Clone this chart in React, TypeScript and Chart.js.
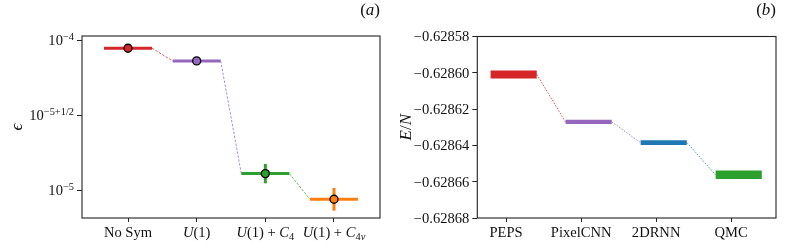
import React, { useEffect, useRef } from "react";
import { Chart, registerables } from "chart.js";
Chart.register(...registerables);

// ---------- panel (a): symmetry vs relative error ----------
const symCategories = ["No Sym", "$U(1)$", "$U(1) + C_4$", "$U(1) + C_{4v}$"];
const symError = [8.9e-5, 7.33e-5, 1.3e-5, 8.77e-6];
const symErrLow: (number | null)[] = [null, null, 1.12e-5, 7.36e-6];
const symErrHigh: (number | null)[] = [null, null, 1.507e-5, 1.043e-5];
const symColors = ["#d62728", "#9467bd", "#2ca02c", "#ff7f0e"];
const symYTicks = [1e-4, Math.pow(10, -5 + 1 / 2), 1e-5];
const symYTickLabels = ["$10^{-4}$", "$10^{-5+1/2}$", "$10^{-5}$"];

// ---------- panel (b): energy per site ----------
const methodCategories = ["PEPS", "PixelCNN", "2DRNN", "QMC"];
const methodLow = [-0.6286031, -0.6286282, -0.6286398, -0.6286585];
const methodHigh = [-0.6285987, -0.6286259, -0.6286371, -0.6286538];
const methodColors = ["#d62728", "#9467bd", "#1f77b4", "#2ca02c"];
const methodYTicks = [-0.62868, -0.62866, -0.62864, -0.62862, -0.6286, -0.62858];

const FAMILY = "'Liberation Serif', 'DejaVu Serif', serif";
const FS = 14;
const SX = 1.04;

type Seg = { t: string; it: boolean; lv: number };

function pushSeg(out: Seg[], t: string, it: boolean, lv: number) {
  const last = out[out.length - 1];
  if (last && last.it === it && last.lv === lv) last.t += t;
  else out.push({ t, it, lv });
}

function parseMath(s: string, lv: number, out: Seg[]) {
  let i = 0;
  while (i < s.length) {
    const c = s[i];
    if (c === "_" || c === "^") {
      const nl = lv + (c === "^" ? 1 : -1);
      i++;
      let g = "";
      if (s[i] === "{") {
        let depth = 1;
        let j = i + 1;
        while (j < s.length && depth) {
          if (s[j] === "{") depth++;
          else if (s[j] === "}") depth--;
          j++;
        }
        g = s.slice(i + 1, j - 1);
        i = j;
      } else {
        g = s[i];
        i++;
      }
      parseMath(g, nl, out);
      continue;
    }
    if (c === " ") {
      i++;
      continue;
    }
    const it = /[A-Za-z\u03b1-\u03f5]/.test(c);
    let t = c;
    if (c === "-") t = "\u2212";
    if (c === "+" && lv === 0) t = " + ";
    pushSeg(out, t, it, lv);
    i++;
  }
}

function parseTex(s: string): Seg[] {
  const out: Seg[] = [];
  s.split("$").forEach((p, k) => {
    if (k % 2 === 0) {
      if (p) pushSeg(out, p, false, 0);
    } else parseMath(p, 0, out);
  });
  return out;
}

function drawTex(
  ctx: CanvasRenderingContext2D,
  s: string,
  x: number,
  y: number,
  align: "left" | "center" | "right",
  size: number,
  sx = SX
) {
  const segs = parseTex(s);
  const fontFor = (g: Seg) =>
    `${g.it ? "italic " : ""}${g.lv === 0 ? size : Math.round(size * 0.72)}px ${FAMILY}`;
  let w = 0;
  const ws = segs.map((g) => {
    ctx.font = fontFor(g);
    const m = ctx.measureText(g.t).width;
    w += m;
    return m;
  });
  const W = w * sx;
  const x0 = align === "left" ? x : align === "right" ? x - W : x - W / 2;
  ctx.save();
  ctx.translate(x0, y);
  ctx.scale(sx, 1);
  ctx.textAlign = "left";
  ctx.textBaseline = "alphabetic";
  let cx = 0;
  segs.forEach((g, k) => {
    ctx.font = fontFor(g);
    const dy = g.lv > 0 ? -0.42 * size : g.lv < 0 ? 0.22 * size : 0;
    ctx.fillText(g.t, cx, dy);
    cx += ws[k];
  });
  ctx.restore();
}

function rgba(hex: string, a: number) {
  const n = parseInt(hex.slice(1), 16);
  return `rgba(${(n >> 16) & 255},${(n >> 8) & 255},${n & 255},${a})`;
}

function makeDecor(cfg: {
  xLabels: string[];
  yTicks: number[];
  yLabels: string[];
  title: string;
  yTitle: string;
  yTitleX: number;
}) {
  return {
    id: "decor",
    afterDraw(chart: any) {
      const { ctx, chartArea: a, scales } = chart;
      ctx.save();
      ctx.strokeStyle = "#222";
      ctx.lineWidth = 1.1;
      ctx.strokeRect(a.left, a.top, a.right - a.left, a.bottom - a.top);
      ctx.fillStyle = "#111";
      cfg.xLabels.forEach((s, i) =>
        drawTex(ctx, s, scales.x.getPixelForValue(i), a.bottom + 19, "center", FS)
      );
      cfg.yTicks.forEach((v, i) =>
        drawTex(ctx, cfg.yLabels[i], a.left - 8, scales.y.getPixelForValue(v) + 4.8, "right", FS)
      );
      drawTex(ctx, cfg.title, a.right, 15, "right", 17, 1);
      ctx.save();
      ctx.translate(cfg.yTitleX, (a.top + a.bottom) / 2);
      ctx.rotate(-Math.PI / 2);
      drawTex(ctx, cfg.yTitle, 0, 5.5, "center", 17, 1);
      ctx.restore();
      ctx.restore();
    },
  };
}

const tickAxis = (tickLength: number) => ({
  bounds: "data" as const,
  ticks: { display: false, autoSkip: false },
  grid: {
    display: true,
    drawOnChartArea: false,
    drawTicks: true,
    tickLength,
    color: "#222",
    lineWidth: 1,
  },
  border: { display: false },
});

function leftConfig(): any {
  const HALF = 0.35;
  const datasets: any[] = [];
  datasets.push({
    data: symCategories.map((_, i) => ({ x: i, y: symError[i] })),
    showLine: false,
    pointRadius: 4,
    pointBackgroundColor: symColors,
    pointBorderColor: "#000",
    pointBorderWidth: 1.3,
    order: 0,
  });
  symErrLow.forEach((lo, i) => {
    const hi = symErrHigh[i];
    if (lo == null || hi == null) return;
    datasets.push({
      data: [
        { x: i, y: lo },
        { x: i, y: hi },
      ],
      borderColor: symColors[i],
      borderWidth: 3,
      pointRadius: 0,
      order: 1,
    });
  });
  symError.forEach((v, i) => {
    datasets.push({
      data: [
        { x: i - HALF, y: v },
        { x: i + HALF, y: v },
      ],
      borderColor: symColors[i],
      borderWidth: 3,
      pointRadius: 0,
      order: 2,
    });
  });
  for (let i = 0; i < symError.length - 1; i++) {
    datasets.push({
      data: [
        { x: i + HALF, y: symError[i] },
        { x: i + 1 - HALF, y: symError[i + 1] },
      ],
      borderColor: rgba(symColors[i], 0.75),
      borderWidth: 1,
      borderDash: [2.5, 1.5],
      pointRadius: 0,
      order: 3,
    });
  }
  return {
    type: "line",
    data: { datasets },
    options: {
      responsive: false,
      animation: false,
      events: [],
      layout: { padding: { left: 0, right: 14, top: 36, bottom: 0 } },
      plugins: { legend: { display: false }, tooltip: { enabled: false } },
      scales: {
        x: {
          type: "linear",
          min: -0.67,
          max: 3.67,
          ...tickAxis(4),
          afterBuildTicks: (s: any) => {
            s.ticks = symCategories.map((_, i) => ({ value: i }));
          },
          afterFit: (s: any) => {
            s.height = 32;
          },
        },
        y: {
          type: "logarithmic",
          min: Math.pow(10, -5.182),
          max: Math.pow(10, -3.969),
          ...tickAxis(5),
          afterBuildTicks: (s: any) => {
            s.ticks = symYTicks.map((v) => ({ value: v }));
          },
          afterFit: (s: any) => {
            s.width = 82;
          },
        },
      },
    },
    plugins: [
      makeDecor({
        xLabels: symCategories,
        yTicks: symYTicks,
        yLabels: symYTickLabels,
        title: "$(a)$",
        yTitle: "$\u03f5$",
        yTitleX: 16,
      }),
    ],
  };
}

function rightConfig(): any {
  const X0 = -0.21;
  const X1 = 0.41;
  const datasets: any[] = [];
  methodLow.forEach((lo, i) => {
    datasets.push({
      data: [
        { x: i + X0, y: lo },
        { x: i + X1, y: lo },
      ],
      borderWidth: 0,
      pointRadius: 0,
      fill: false,
    });
    datasets.push({
      data: [
        { x: i + X0, y: methodHigh[i] },
        { x: i + X1, y: methodHigh[i] },
      ],
      borderWidth: 0,
      pointRadius: 0,
      backgroundColor: methodColors[i],
      fill: "-1",
    });
  });
  const mid = methodLow.map((lo, i) => (lo + methodHigh[i]) / 2);
  for (let i = 0; i < mid.length - 1; i++) {
    datasets.push({
      data: [
        { x: i + X1, y: mid[i] },
        { x: i + 1 + X0, y: mid[i + 1] },
      ],
      borderColor: rgba(methodColors[i], 0.8),
      borderWidth: 1,
      borderDash: [1.5, 1.5],
      pointRadius: 0,
      fill: false,
    });
  }
  return {
    type: "line",
    data: { datasets },
    options: {
      responsive: false,
      animation: false,
      events: [],
      layout: { padding: { left: 0, right: 13, top: 36.5, bottom: 0 } },
      plugins: { legend: { display: false }, tooltip: { enabled: false } },
      scales: {
        x: {
          type: "linear",
          min: -0.384,
          max: 3.598,
          ...tickAxis(4),
          afterBuildTicks: (s: any) => {
            s.ticks = methodCategories.map((_, i) => ({ value: i }));
          },
          afterFit: (s: any) => {
            s.height = 32;
          },
        },
        y: {
          type: "linear",
          min: methodYTicks[0],
          max: methodYTicks[methodYTicks.length - 1],
          ...tickAxis(5),
          afterBuildTicks: (s: any) => {
            s.ticks = methodYTicks.map((v) => ({ value: v }));
          },
          afterFit: (s: any) => {
            s.width = 83.3;
          },
        },
      },
    },
    plugins: [
      makeDecor({
        xLabels: methodCategories,
        yTicks: methodYTicks,
        yLabels: methodYTicks.map((v) => "$" + v.toFixed(5) + "$"),
        title: "$(b)$",
        yTitle: "$E/N$",
        yTitleX: 11,
      }),
    ],
  };
}

export default function App() {
  const leftRef = useRef<HTMLCanvasElement>(null);
  const rightRef = useRef<HTMLCanvasElement>(null);
  useEffect(() => {
    const c1 = new Chart(leftRef.current!, leftConfig());
    const c2 = new Chart(rightRef.current!, rightConfig());
    return () => {
      c1.destroy();
      c2.destroy();
    };
  }, []);
  return (
    <div style={{ position: "absolute", left: 0, top: 0, width: 789, height: 250, background: "#fff" }}>
      <canvas
        ref={leftRef}
        width={394}
        height={250}
        style={{ position: "absolute", left: 0, top: 0, width: 394, height: 250 }}
      />
      <canvas
        ref={rightRef}
        width={395}
        height={250}
        style={{ position: "absolute", left: 394, top: 0, width: 395, height: 250 }}
      />
    </div>
  );
}
